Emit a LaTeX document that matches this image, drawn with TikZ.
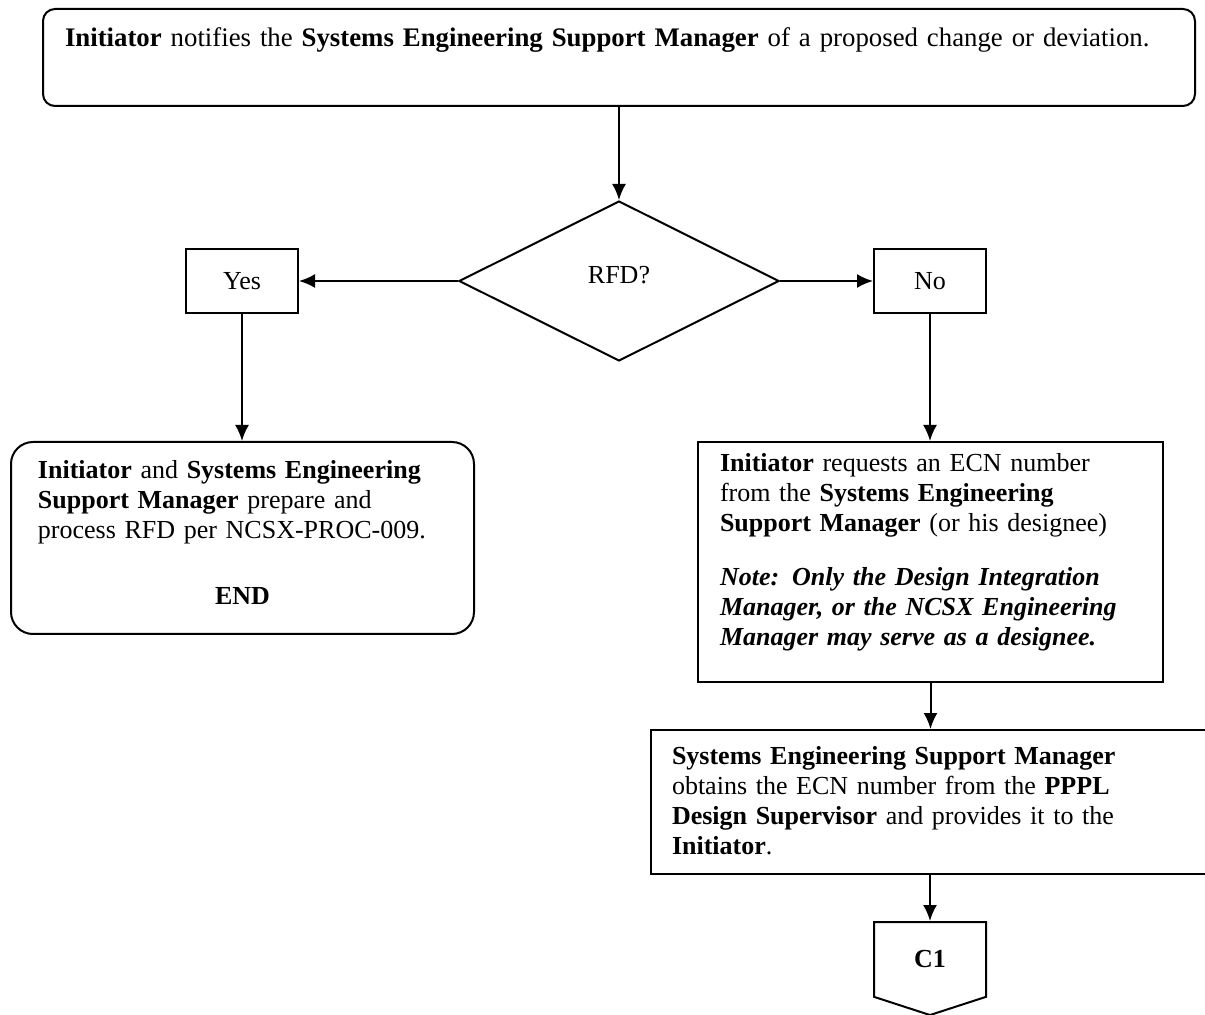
\documentclass[tikz,border=0pt]{standalone}
\usepackage{fontspec}
\setmainfont{Liberation Serif}
\usetikzlibrary{shapes.geometric, shapes.symbols, arrows.meta}

\begin{document}
\begin{tikzpicture}[x=0.5pt, y=-0.5pt,
        every node/.style={font=\fontsize{13}{15}\selectfont, line width=1pt},
        stepbox/.style={draw, anchor=north west, align=left, inner ysep=0pt},
        answer/.style={draw, minimum width=56pt, minimum height=32pt},
        flow/.style={draw, line width=1pt, -{Latex[length=8pt, width=7pt]}}
    ]
    \useasboundingbox (0,0) rectangle (1205,1015);

    \node[stepbox, rounded corners=6pt, text width=554pt, inner xsep=11pt,
          text height=19pt, text depth=29.5pt, font=\fontsize{13.4}{15}\selectfont] (start) at (42,8)
        {\textbf{Initiator} notifies the \textbf{Systems Engineering Support Manager} of a proposed change or deviation.};

    \node[draw, diamond, minimum width=160pt, minimum height=80pt, inner sep=0pt] (rfd) at (619,281)
        {\raisebox{6.5pt}{RFD?}};
    \node[answer] (yes) at (242,281) {Yes};
    \node[answer] (no) at (930,281) {No};

    \node[stepbox, rounded corners=11pt, text width=204.5pt, inner xsep=13.5pt,
          text height=18.5pt, text depth=77.5pt] (rfdproc) at (10,441)
        {\textbf{Initiator} and \textbf{Systems Engineering}\\
         \textbf{Support Manager} prepare and\\
         process RFD per NCSX-PROC-009.\\[18pt]
         \makebox[\linewidth]{\textbf{END}}};

    \node[stepbox, text width=210.5pt, inner xsep=11pt,
          text height=15pt, text depth=105pt] (ecnreq) at (697,441)
        {\textbf{Initiator} requests an ECN number\\
         from the \textbf{Systems Engineering}\\
         \textbf{Support Manager} (or his designee)\\[12pt]
         \textbf{\textit{Note: Only the Design Integration}}\\
         \textbf{\textit{Manager, or the NCSX Engineering}}\\
         \textbf{\textit{Manager may serve as a designee.}}};

    \node[stepbox, text width=300pt, inner xsep=10.5pt,
          text height=17pt, text depth=55pt] (ecnget) at (650,729)
        {\textbf{Systems Engineering Support Manager}\\
         obtains the ECN number from the \textbf{PPPL}\\
         \textbf{Design Supervisor} and provides it to the\\
         \textbf{Initiator}.};

    \node[draw, signal, signal to=south, signal pointer angle=144, minimum width=56pt,
          minimum height=40pt, inner sep=0pt, anchor=north] (conn) at (930,921) {\textbf{C1}};

    \draw[flow] (start.south -| rfd.north) -- (rfd.north);
    \draw[flow] (rfd.west) -- (yes.east);
    \draw[flow] (rfd.east) -- (no.west);
    \draw[flow] (yes.south) -- (yes.south |- rfdproc.north);
    \draw[flow] (no.south) -- (no.south |- ecnreq.north);
    \draw[flow] (ecnreq.south) -- (ecnreq.south |- ecnget.north);
    \draw[flow] (ecnget.south -| conn.north) -- (conn.north);
\end{tikzpicture}
\end{document}
